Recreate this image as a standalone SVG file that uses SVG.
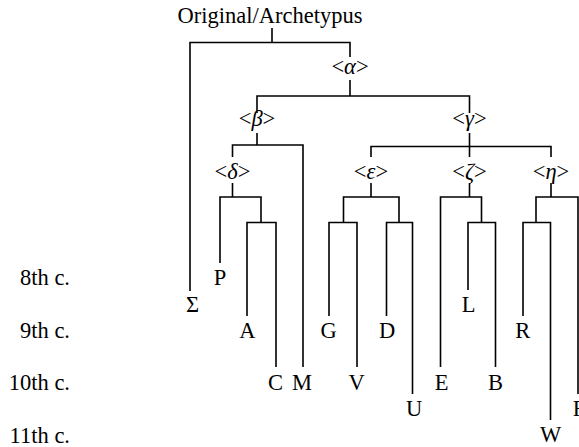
<svg xmlns="http://www.w3.org/2000/svg" width="579" height="447" viewBox="0 0 579 447">
<style>
text{font-family:"Liberation Serif","Times New Roman",serif;font-size:22.5px;fill:#000;text-anchor:middle}
.row{text-anchor:end}
.it{font-style:italic}
#connectors path{fill:none;stroke:#000;stroke-width:1.6}
</style>
<rect width="579" height="447" fill="#fff"/>
<g id="connectors">
<path d="M272,28V42.5M190,291V42.5H350V57"/>
<path d="M350,80V96M257,113V96H469.5V113"/>
<path d="M257,133V145M232.5,157V145H303V367"/>
<path d="M469.5,133V157M371,157V146.5H551V157"/>
<path d="M232.5,183V197M220,263V197H261V222.5M247,316V222.5H276V367"/>
<path d="M371,183V197M343.5,222.5V197H399V222.5M329,316V222.5H357V367M386.5,316V222.5H412.5V394"/>
<path d="M469.5,183V197M440.5,367V197H481.5V222.5M468,290V222.5H495.5V367"/>
<path d="M551,183V197M536,222.5V197H578V394M523,316V222.5H550.5V420"/>
</g>
<g id="title"><text x="270" y="23">Original/Archetypus</text></g>
<g id="alpha"><text x="350" y="74">&lt;<tspan class="it">α</tspan>&gt;</text></g>
<g id="beta"><text x="257" y="126">&lt;<tspan class="it">β</tspan>&gt;</text></g>
<g id="gamma"><text x="469.5" y="126">&lt;<tspan class="it">γ</tspan>&gt;</text></g>
<g id="delta"><text x="232.5" y="179">&lt;<tspan class="it">δ</tspan>&gt;</text></g>
<g id="epsilon"><text x="371" y="179">&lt;<tspan class="it">ε</tspan>&gt;</text></g>
<g id="zeta"><text x="469.5" y="179">&lt;<tspan class="it">ζ</tspan>&gt;</text></g>
<g id="eta"><text x="551" y="179">&lt;<tspan class="it">η</tspan>&gt;</text></g>
<g id="Sigma"><text x="192.5" y="312">Σ</text></g>
<g id="P"><text x="220" y="285">P</text></g>
<g id="A"><text x="247.3" y="338">A</text></g>
<g id="C"><text x="275.5" y="390">C</text></g>
<g id="M"><text x="302" y="390">M</text></g>
<g id="G"><text x="328.5" y="338">G</text></g>
<g id="V"><text x="356.5" y="390">V</text></g>
<g id="D"><text x="387" y="338">D</text></g>
<g id="U"><text x="414" y="416">U</text></g>
<g id="E"><text x="441.5" y="390">E</text></g>
<g id="L"><text x="468.5" y="312">L</text></g>
<g id="B"><text x="495.5" y="390">B</text></g>
<g id="R"><text x="522.7" y="338">R</text></g>
<g id="W"><text x="550.5" y="442">W</text></g>
<g id="F"><text x="579" y="416">F</text></g>
<g id="rows">
<text class="row" x="70" y="285">8th c.</text>
<text class="row" x="70" y="338">9th c.</text>
<text class="row" x="70" y="390">10th c.</text>
<text class="row" x="70" y="443">11th c.</text>
</g>
</svg>
